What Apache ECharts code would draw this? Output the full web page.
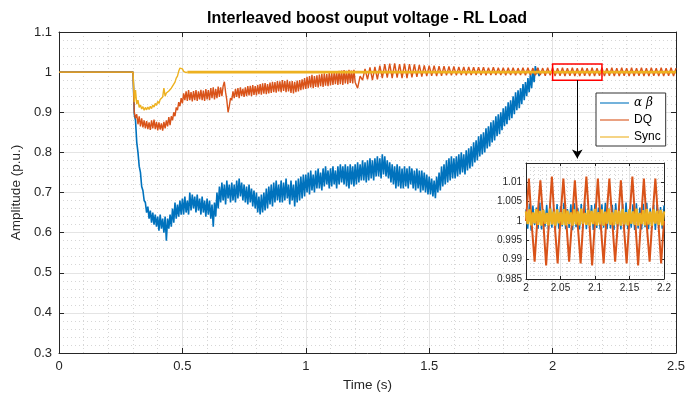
<!DOCTYPE html>
<html>
<head>
<meta charset="utf-8">
<script src="https://cdn.jsdelivr.net/npm/echarts@6/dist/echarts.min.js"></script>
<style>html,body{margin:0;padding:0;background:#fff}#c{width:699px;height:400px}</style>
</head>
<body>
<div id="c"></div>
<script>
// ---------- DATA ----------
const seriesNames = ['α β', 'DQ', 'Sync'];
const xTicks = [0, 0.5, 1, 1.5, 2, 2.5];
const yTicks = [0.3, 0.4, 0.5, 0.6, 0.7, 0.8, 0.9, 1, 1.1];

// values before the load step (t = 0 .. 0.3 s)
const preStepTime = [0, 0.3];
const preStepValue = [1.0, 1.0];

// alpha-beta : sampled every 0.005 s from 0.300 s to 1.945 s
const blueStart = 0.300, blueStep = 0.005;
const blueValues = [
  1.0, 0.895, 0.88, 0.825, 0.80, 0.765, 0.75, 0.715, 0.705, 0.68,
  0.675, 0.65, 0.665, 0.635, 0.655, 0.625, 0.65, 0.62, 0.645, 0.615,
  0.64, 0.605, 0.645, 0.61, 0.635, 0.60, 0.64, 0.58, 0.635, 0.61,
  0.645, 0.615, 0.66, 0.625, 0.675, 0.635, 0.67, 0.64, 0.68, 0.645,
  0.685, 0.645, 0.69, 0.65, 0.68, 0.645, 0.70, 0.655, 0.695, 0.66,
  0.69, 0.65, 0.695, 0.655, 0.685, 0.645, 0.69, 0.65, 0.68, 0.64,
  0.685, 0.645, 0.68, 0.635, 0.67, 0.615, 0.675, 0.64, 0.70, 0.66,
  0.715, 0.675, 0.725, 0.68, 0.72, 0.67, 0.73, 0.685, 0.72, 0.675,
  0.725, 0.68, 0.72, 0.675, 0.73, 0.685, 0.735, 0.69, 0.725, 0.68,
  0.72, 0.675, 0.715, 0.67, 0.72, 0.675, 0.71, 0.665, 0.705, 0.66,
  0.70, 0.65, 0.69, 0.645, 0.695, 0.65, 0.70, 0.655, 0.71, 0.66,
  0.715, 0.67, 0.72, 0.665, 0.725, 0.675, 0.73, 0.68, 0.72, 0.675,
  0.73, 0.675, 0.725, 0.68, 0.735, 0.685, 0.72, 0.67, 0.73, 0.68,
  0.72, 0.665, 0.73, 0.675, 0.735, 0.68, 0.74, 0.685, 0.745, 0.69,
  0.745, 0.70, 0.75, 0.695, 0.755, 0.705, 0.745, 0.70, 0.755, 0.71,
  0.76, 0.71, 0.75, 0.705, 0.76, 0.715, 0.765, 0.72, 0.755, 0.71,
  0.76, 0.715, 0.765, 0.72, 0.755, 0.71, 0.765, 0.72, 0.77, 0.725,
  0.765, 0.72, 0.77, 0.715, 0.765, 0.71, 0.77, 0.72, 0.765, 0.715,
  0.77, 0.72, 0.775, 0.725, 0.77, 0.73, 0.78, 0.73, 0.775, 0.725,
  0.78, 0.73, 0.785, 0.735, 0.78, 0.73, 0.785, 0.74, 0.79, 0.74,
  0.785, 0.735, 0.795, 0.745, 0.79, 0.74, 0.78, 0.735, 0.775, 0.725,
  0.77, 0.72, 0.765, 0.71, 0.77, 0.715, 0.765, 0.71, 0.76, 0.71,
  0.765, 0.715, 0.76, 0.71, 0.765, 0.72, 0.76, 0.71, 0.755, 0.705,
  0.76, 0.71, 0.755, 0.70, 0.755, 0.705, 0.75, 0.70, 0.745, 0.695,
  0.74, 0.695, 0.735, 0.69, 0.73, 0.686, 0.74, 0.70, 0.75, 0.705,
  0.765, 0.715, 0.77, 0.72, 0.78, 0.725, 0.785, 0.73, 0.79, 0.735,
  0.785, 0.735, 0.79, 0.74, 0.795, 0.745, 0.80, 0.75, 0.795, 0.745,
  0.805, 0.755, 0.81, 0.76, 0.815, 0.765, 0.825, 0.775, 0.83, 0.78,
  0.84, 0.79, 0.845, 0.795, 0.85, 0.80, 0.86, 0.81, 0.865, 0.815,
  0.875, 0.825, 0.88, 0.83, 0.89, 0.84, 0.895, 0.845, 0.90, 0.855,
  0.91, 0.865, 0.915, 0.87, 0.925, 0.88, 0.93, 0.885, 0.94, 0.895,
  0.95, 0.905, 0.955, 0.91, 0.96, 0.92, 0.97, 0.93, 0.975, 0.94,
  0.985, 0.95, 0.995, 0.96, 1.005, 0.975, 1.015, 0.995, 1.01, 0.99
];
const blueTailTime = [1.95, 2.5];
const blueTailValue = [1.0, 1.0];

// DQ : every 0.005 s from 0.300 s to 1.195 s, then every 0.01 s to 2.5 s
const orangeStartA = 0.300, orangeStepA = 0.005;
const orangeValuesA = [
  1.0, 0.90, 0.885, 0.895, 0.87, 0.89, 0.865, 0.885, 0.862, 0.88,
  0.86, 0.878, 0.858, 0.875, 0.856, 0.88, 0.86, 0.882, 0.858, 0.876,
  0.855, 0.875, 0.857, 0.872, 0.854, 0.876, 0.86, 0.88, 0.865, 0.888,
  0.868, 0.89, 0.88, 0.90, 0.89, 0.912, 0.905, 0.925, 0.915, 0.935,
  0.922, 0.947, 0.93, 0.952, 0.928, 0.955, 0.93, 0.95, 0.927, 0.953,
  0.93, 0.955, 0.928, 0.952, 0.932, 0.956, 0.93, 0.954, 0.928, 0.958,
  0.932, 0.955, 0.93, 0.96, 0.935, 0.962, 0.932, 0.958, 0.935, 0.964,
  0.938, 0.962, 0.94, 0.965, 0.976, 0.95, 0.93, 0.90, 0.915, 0.935,
  0.93, 0.952, 0.935, 0.958, 0.938, 0.96, 0.935, 0.962, 0.94, 0.958,
  0.938, 0.962, 0.94, 0.965, 0.942, 0.966, 0.94, 0.968, 0.943, 0.965,
  0.942, 0.968, 0.945, 0.97, 0.944, 0.972, 0.946, 0.973, 0.945, 0.97,
  0.947, 0.974, 0.948, 0.976, 0.95, 0.975, 0.949, 0.978, 0.952, 0.977,
  0.95, 0.98, 0.953, 0.978, 0.95, 0.981, 0.952, 0.977, 0.948, 0.978,
  0.947, 0.976, 0.95, 0.979, 0.952, 0.98, 0.955, 0.982, 0.957, 0.985,
  0.958, 0.988, 0.96, 0.99, 0.962, 0.993, 0.96, 0.99, 0.963, 0.992,
  0.962, 0.994, 0.965, 0.996, 0.963, 0.997, 0.966, 0.995, 0.965, 0.998,
  0.967, 0.998, 0.968, 1.0, 0.97, 1.002, 0.968, 1.003, 0.97, 1.004,
  0.968, 1.005, 0.972, 1.003, 0.97, 1.006, 0.973, 1.004, 0.972, 1.006
];
const orangeStartB = 1.20, orangeStepB = 0.01;
const orangeValuesB = [
  0.975, 0.96, 0.99, 0.98, 1.008, 0.982, 1.012, 0.98, 1.013, 0.982,
  1.016, 0.985, 1.02, 0.986, 1.021, 0.985, 1.022, 0.986, 1.02, 0.985,
  1.021, 0.985, 1.02, 0.987, 1.019, 0.988, 1.018, 0.989, 1.017, 0.99,
  1.016, 0.991, 1.016, 0.99, 1.015, 0.991, 1.015, 0.992, 1.014, 0.992,
  1.014, 0.992, 1.013, 0.993, 1.013, 0.992, 1.013, 0.993, 1.012, 0.993,
  1.012, 0.993, 1.012, 0.992, 1.011, 0.993, 1.012, 0.993, 1.011, 0.993,
  1.011, 0.992, 1.011, 0.993, 1.011, 0.992, 1.01, 0.993, 1.011, 0.992,
  1.011, 0.993, 1.01, 0.992, 1.011, 0.993, 1.01, 0.991, 1.011, 0.992,
  1.011, 0.99, 1.01, 0.991, 1.011, 0.99, 1.01, 0.991, 1.011, 0.99,
  1.01, 0.99, 1.011, 0.991, 1.01, 0.99, 1.011, 0.99, 1.01, 0.991,
  1.011, 0.99, 1.01, 0.991, 1.011, 0.99, 1.01, 0.99, 1.011, 0.991,
  1.01, 0.99, 1.011, 0.99, 1.01, 0.991, 1.011, 0.99, 1.01, 0.99,
  1.011, 0.991, 1.01, 0.99, 1.011, 0.99, 1.01, 0.991, 1.011, 0.99, 1.01
];

// Sync : every 0.005 s from 0.300 s to 0.520 s, then steady
const yellowStart = 0.300, yellowStep = 0.005;
const yellowValues = [
  1.0, 0.925, 0.955, 0.92, 0.93, 0.912, 0.918, 0.908, 0.914, 0.905,
  0.912, 0.906, 0.913, 0.907, 0.915, 0.909, 0.918, 0.913, 0.922, 0.917,
  0.927, 0.922, 0.932, 0.928, 0.938, 0.96, 0.94, 0.948, 0.944, 0.953,
  0.95, 0.96, 0.958, 0.97, 0.975, 0.985, 0.99, 1.002, 1.01, 1.014,
  1.008, 1.002, 0.998, 0.999, 1.0
];
const yellowSteadyTime = [0.52, 2.5];
const yellowSteadyValue = [1.0, 1.0];

// zoom box and arrow (data coordinates)
const zoomBoxX = [2.0, 2.2];
const zoomBoxY = [0.98, 1.02];
const arrowX = 2.1;
const arrowY = [0.98, 0.785];

// inset (2.0 .. 2.2 s)
const insetXTicks = [2, 2.05, 2.1, 2.15, 2.2];
const insetYTicks = [0.985, 0.99, 0.995, 1, 1.005, 1.01];
const insetStart = 2.0;
const insetBlueStep = 0.0025;
const insetBlue = [
  1.003, 0.998, 1.0045, 0.9975, 1.004, 0.999, 1.0035, 0.998, 1.0048, 0.9978,
  1.003, 0.9985, 1.0042, 0.9978, 1.0046, 0.9983, 1.0032, 0.9977, 1.0044, 0.998,
  1.0038, 0.9986, 1.0047, 0.9979, 1.0031, 0.9982, 1.0043, 0.9976, 1.0046, 0.9984,
  1.0034, 0.9978, 1.0044, 0.9981, 1.0048, 0.9979, 1.0033, 0.9984, 1.0041, 0.9977,
  1.0045, 0.9982, 1.0035, 0.9978, 1.0043, 0.9983, 1.0047, 0.9979, 1.0032, 0.9981,
  1.0042, 0.9977, 1.0046, 0.9984, 1.0034, 0.9978, 1.0044, 0.9982, 1.0048, 0.9979,
  1.0031, 0.9983, 1.0043, 0.9977, 1.0046, 0.9981, 1.0035, 0.9978, 1.0044, 0.9984,
  1.0047, 0.9979, 1.0033, 0.9982, 1.0042, 0.9977, 1.0045, 0.9983, 1.0036, 0.998, 1.004
];
const insetOrangeStep = 0.2 / 48;
const insetOrange = [
  1.0, 1.011, 0.999, 0.9895, 1.001, 1.0105, 1.0, 0.9885, 1.0, 1.0115,
  0.999, 0.989, 1.001, 1.011, 1.0, 0.9895, 1.0, 1.0105, 0.999, 0.989,
  1.001, 1.0115, 1.0, 0.9885, 1.0, 1.011, 0.999, 0.989, 1.001, 1.011,
  1.0, 0.9895, 1.0, 1.0105, 0.999, 0.989, 1.001, 1.0115, 1.0, 0.9885,
  1.0, 1.011, 0.999, 0.9895, 1.001, 1.011, 1.0, 0.989, 1.0
];
const insetYellowStep = 0.0025;
const insetYellow = [
  1.0025, 0.9992, 1.003, 0.9989, 1.0022, 0.9994, 1.0031, 0.999, 1.0026, 0.9988,
  1.0029, 0.9993, 1.0021, 0.9989, 1.0032, 0.9991, 1.0024, 0.9988, 1.003, 0.9994,
  1.0023, 0.999, 1.0031, 0.9989, 1.0027, 0.9992, 1.0022, 0.9988, 1.003, 0.9991,
  1.0025, 0.9989, 1.0032, 0.9993, 1.0021, 0.999, 1.0029, 0.9988, 1.0026, 0.9992,
  1.0031, 0.9989, 1.0023, 0.9991, 1.003, 0.9988, 1.0024, 0.9993, 1.0032, 0.999,
  1.0022, 0.9989, 1.0029, 0.9992, 1.0026, 0.9988, 1.0031, 0.9991, 1.0023, 0.9989,
  1.003, 0.9993, 1.0025, 0.999, 1.0032, 0.9988, 1.0021, 0.9992, 1.0028, 0.9989,
  1.0031, 0.9991, 1.0024, 0.9988, 1.003, 0.9993, 1.0026, 0.999, 1.0029, 0.9989, 1.0025
];

// ---------- BUILD ----------
function pairs(times, vals) { return times.map((t, i) => [t, vals[i]]); }
function sampled(t0, dt, vals) { return vals.map((v, i) => [+(t0 + i * dt).toFixed(6), v]); }

const blueData = pairs(preStepTime, preStepValue).slice(0, 1)
  .concat(sampled(blueStart, blueStep, blueValues))
  .concat(pairs(blueTailTime, blueTailValue));
const orangeData = pairs(preStepTime, preStepValue).slice(0, 1)
  .concat(sampled(orangeStartA, orangeStepA, orangeValuesA))
  .concat(sampled(orangeStartB, orangeStepB, orangeValuesB));
const yellowData = pairs(preStepTime, preStepValue).slice(0, 1)
  .concat(sampled(yellowStart, yellowStep, yellowValues));
const yellowSteady = pairs(yellowSteadyTime, yellowSteadyValue);

const C_BLUE = '#0072BD', C_ORANGE = '#D95319', C_YELLOW = '#EDB120';
const FONT = 'Liberation Sans, Arial, Helvetica, sans-serif';
const AX = '#262626';
const GRIDC = '#e4e4e4';
const MINORC = '#d6d6d6';

function mainX(pos, labels) {
  return {
    gridIndex: 0, type: 'value', position: pos,
    min: xTicks[0], max: xTicks[xTicks.length - 1], interval: xTicks[1] - xTicks[0],
    axisLine: { show: true, onZero: false, lineStyle: { color: AX, width: 1 } },
    axisTick: { show: true, inside: true, length: 5, lineStyle: { color: AX } },
    axisLabel: { show: labels, color: AX, fontSize: 13, margin: 7, fontFamily: FONT },
    splitLine: { show: labels, lineStyle: { color: GRIDC, width: 1 } },
    minorTick: { show: false, splitNumber: 5 },
    minorSplitLine: { show: labels, lineStyle: { color: MINORC, width: 1, type: [1, 3] } },
    name: labels ? 'Time (s)' : '', nameLocation: 'middle', nameGap: 24,
    nameTextStyle: { color: AX, fontSize: 13.5, fontFamily: FONT }
  };
}
function mainY(pos, labels) {
  return {
    gridIndex: 0, type: 'value', position: pos,
    min: yTicks[0], max: yTicks[yTicks.length - 1], interval: 0.1,
    axisLine: { show: true, onZero: false, lineStyle: { color: AX, width: 1 } },
    axisTick: { show: true, inside: true, length: 5, lineStyle: { color: AX } },
    axisLabel: { show: labels, color: AX, fontSize: 13, margin: 7, fontFamily: FONT },
    splitLine: { show: labels, lineStyle: { color: GRIDC, width: 1 } },
    minorTick: { show: false, splitNumber: 5 },
    minorSplitLine: { show: labels, lineStyle: { color: MINORC, width: 1, type: [1, 3] } },
    name: labels ? 'Amplitude (p.u.)' : '', nameLocation: 'middle', nameGap: 24,
    nameTextStyle: { color: AX, fontSize: 13.5, fontFamily: FONT }
  };
}
function insetX(pos, labels) {
  return {
    gridIndex: 1, type: 'value', position: pos, z: 4,
    min: insetXTicks[0], max: insetXTicks[insetXTicks.length - 1], interval: 0.05,
    axisLine: { show: true, onZero: false, lineStyle: { color: AX, width: 1 } },
    axisTick: { show: true, inside: true, length: 3, lineStyle: { color: AX } },
    axisLabel: { show: labels, color: AX, fontSize: 10, margin: 4, fontFamily: FONT },
    splitLine: { show: labels, lineStyle: { color: GRIDC, width: 1 } },
    minorTick: { show: false, splitNumber: 5 },
    minorSplitLine: { show: labels, lineStyle: { color: MINORC, width: 1, type: [1, 3] } }
  };
}
function insetY(pos, labels) {
  return {
    gridIndex: 1, type: 'value', position: pos, z: 4,
    min: insetYTicks[0], max: 1.015, interval: 0.005,
    axisLine: { show: true, onZero: false, lineStyle: { color: AX, width: 1 } },
    axisTick: { show: true, inside: true, length: 3, lineStyle: { color: AX } },
    axisLabel: {
      show: labels, color: AX, fontSize: 10, margin: 4, fontFamily: FONT,
      formatter: v => (insetYTicks.some(t => Math.abs(t - v) < 1e-6) ? String(+v.toFixed(3)) : '')
    },
    splitLine: { show: labels, lineStyle: { color: GRIDC, width: 1 } },
    minorTick: { show: false, splitNumber: 5 },
    minorSplitLine: { show: labels, lineStyle: { color: MINORC, width: 1, type: [1, 3] } }
  };
}

function line(name, data, color, width, xi, yi, z) {
  return {
    type: 'line', name, data, xAxisIndex: xi, yAxisIndex: yi, z: z || 2,
    showSymbol: false, symbol: 'none', sampling: 'none', clip: true,
    lineStyle: { color, width }, itemStyle: { color }, animation: false, silent: true
  };
}

const chart = echarts.init(document.getElementById('c'), null, { renderer: 'canvas' });
const steadySeries = line(seriesNames[2], yellowSteady, C_YELLOW, 2.8, 0, 0, 3);
steadySeries.markArea = {
  silent: true, z: 10,
  itemStyle: { color: 'rgba(0,0,0,0)', borderColor: '#ff0000', borderWidth: 1.5 },
  label: { show: false },
  data: [[{ coord: [zoomBoxX[0], zoomBoxY[0]] }, { coord: [zoomBoxX[1], zoomBoxY[1]] }]]
};
steadySeries.markLine = {
  silent: true, z: 10, symbol: ['none', 'arrow'], symbolSize: [8, 9],
  lineStyle: { color: '#000', width: 1, type: 'solid' }, label: { show: false },
  data: [[{ coord: [arrowX, arrowY[0]] }, { coord: [arrowX, arrowY[1]] }]]
};

chart.setOption({
  animation: false,
  backgroundColor: '#fff',
  title: {
    text: 'Interleaved boost ouput voltage - RL Load', left: 367, top: 11, textAlign: 'center', padding: 0,
    textStyle: { fontSize: 16, fontWeight: 'bold', color: '#000', fontFamily: FONT }
  },
  grid: [
    { left: 59, top: 32, right: 23, bottom: 47, containLabel: false },
    { left: 526, top: 163, width: 138, height: 116, show: true, backgroundColor: '#fff', borderWidth: 0, z: 3 }
  ],
  legend: {
    data: seriesNames, orient: 'vertical', left: 596, top: 93,
    itemWidth: 29, itemHeight: 12, itemGap: 5, padding: [4, 5, 3, 3],
    backgroundColor: '#fff', borderColor: '#333', borderWidth: 1, borderRadius: 0, z: 6,
    lineStyle: { width: 2, opacity: 0.55 },
    itemStyle: { opacity: 0, borderWidth: 0 },
    textStyle: {
      fontSize: 12, color: '#000', fontFamily: FONT,
      rich: { g: { fontFamily: 'DejaVu Serif, serif', fontStyle: 'italic', fontSize: 12, color: '#000' } }
    },
    formatter: n => (n === seriesNames[0] ? '{g|' + n + '}' : n),
    selectedMode: false
  },
  xAxis: [mainX('bottom', true), mainX('top', false), insetX('bottom', true), insetX('top', false)],
  yAxis: [mainY('left', true), mainY('right', false), insetY('left', true), insetY('right', false)],
  series: [
    line(seriesNames[0], blueData, C_BLUE, 1.6, 0, 0),
    line(seriesNames[1], orangeData, C_ORANGE, 1.4, 0, 0),
    line(seriesNames[2], yellowData, C_YELLOW, 1.4, 0, 0),
    steadySeries,
    line(seriesNames[0], sampled(insetStart, insetBlueStep, insetBlue), C_BLUE, 1.5, 2, 2, 5),
    line(seriesNames[1], sampled(insetStart, insetOrangeStep, insetOrange), C_ORANGE, 2, 2, 2, 5),
    line(seriesNames[2], sampled(insetStart, insetYellowStep, insetYellow), C_YELLOW, 2.5, 2, 2, 5)
  ]
});
</script>
</body>
</html>
